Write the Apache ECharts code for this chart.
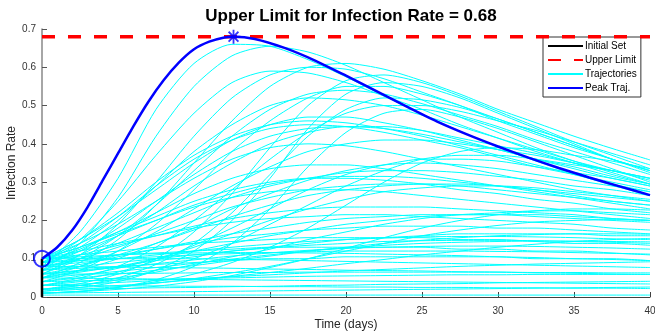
<!DOCTYPE html>
<html>
<head>
<meta charset="utf-8">
<script src="https://cdn.jsdelivr.net/npm/echarts@6/dist/echarts.min.js"></script>
<style>html,body{margin:0;padding:0;background:#fff}#c{width:655px;height:333px}</style>
</head>
<body>
<div id="c"></div>
<script>
const titleText = 'Upper Limit for Infection Rate = 0.68';
const xAxisName = 'Time (days)';
const yAxisName = 'Infection Rate';
const upperLimit = 0.68;
const xTicks = [0, 5, 10, 15, 20, 25, 30, 35, 40];
const yTicks = [0, 0.1, 0.2, 0.3, 0.4, 0.5, 0.6, 0.7];
const timePoints = [0, 2.5, 5, 7.5, 10, 12.5, 15, 17.5, 20, 22.5, 25, 27.5, 30, 32.5, 35, 37.5, 40];
const initialSetTime = [0, 0];
const initialSetValue = [0, 0.1];
const peakTrajTime = [0, 1, 2, 3, 4, 5, 6, 7, 8, 9, 10, 11, 12, 12.6, 14, 16, 18, 20, 22, 24, 26, 28, 30, 32, 34, 36, 38, 40];
const peakTrajValue = [0.1, 0.13, 0.175, 0.235, 0.305, 0.375, 0.445, 0.51, 0.566, 0.612, 0.647, 0.667, 0.678, 0.68, 0.674, 0.65, 0.617, 0.578, 0.538, 0.497, 0.458, 0.424, 0.393, 0.364, 0.337, 0.312, 0.289, 0.266];
const peakPoint = [12.6, 0.68];
const startPoint = [0, 0.1];
const trajectories = [
  [0.08,0.17,0.31,0.49,0.61,0.66,0.655,0.62,0.575,0.525,0.478,0.433,0.392,0.355,0.322,0.292,0.265],
  [0.07,0.14,0.26,0.42,0.55,0.63,0.655,0.64,0.605,0.56,0.515,0.47,0.43,0.39,0.355,0.325,0.295],
  [0.06,0.11,0.19,0.3,0.42,0.52,0.58,0.6,0.595,0.57,0.535,0.5,0.46,0.425,0.39,0.36,0.33],
  [0.05,0.09,0.15,0.24,0.35,0.46,0.55,0.6,0.61,0.595,0.565,0.53,0.49,0.455,0.42,0.388,0.358],
  [0.09,0.15,0.25,0.37,0.48,0.56,0.59,0.585,0.56,0.525,0.49,0.45,0.415,0.38,0.35,0.32,0.295],
  [0.02,0.035,0.06,0.1,0.17,0.27,0.39,0.5,0.565,0.58,0.56,0.525,0.485,0.445,0.405,0.37,0.335],
  [0.08,0.13,0.2,0.29,0.38,0.45,0.5,0.52,0.515,0.5,0.475,0.445,0.415,0.385,0.355,0.33,0.305],
  [0.06,0.1,0.16,0.24,0.33,0.42,0.49,0.53,0.54,0.53,0.505,0.475,0.445,0.41,0.38,0.35,0.32],
  [0.04,0.07,0.12,0.19,0.28,0.38,0.46,0.52,0.55,0.55,0.53,0.5,0.465,0.43,0.395,0.36,0.33],
  [0.09,0.14,0.21,0.29,0.36,0.41,0.44,0.45,0.445,0.43,0.41,0.39,0.365,0.34,0.32,0.3,0.28],
  [0.07,0.11,0.16,0.22,0.29,0.35,0.4,0.43,0.445,0.445,0.435,0.415,0.395,0.375,0.35,0.33,0.31],
  [0.03,0.05,0.08,0.13,0.2,0.28,0.36,0.43,0.48,0.5,0.5,0.485,0.46,0.435,0.405,0.375,0.345],
  [0.05,0.08,0.12,0.17,0.23,0.29,0.34,0.38,0.4,0.41,0.41,0.4,0.385,0.37,0.35,0.33,0.31],
  [0.1,0.15,0.22,0.3,0.37,0.42,0.45,0.46,0.455,0.44,0.42,0.395,0.37,0.345,0.32,0.295,0.275],
  [0.08,0.12,0.18,0.25,0.32,0.38,0.42,0.44,0.445,0.44,0.425,0.405,0.385,0.36,0.34,0.315,0.295],
  [0.01,0.015,0.025,0.045,0.08,0.14,0.23,0.34,0.43,0.48,0.49,0.47,0.44,0.405,0.37,0.335,0.3],
  [0.015,0.025,0.04,0.07,0.12,0.2,0.31,0.44,0.53,0.56,0.55,0.52,0.48,0.44,0.4,0.36,0.325],
  [0.02,0.03,0.05,0.085,0.14,0.22,0.32,0.42,0.49,0.52,0.515,0.495,0.465,0.43,0.395,0.36,0.33],
  [0.09,0.12,0.16,0.2,0.24,0.27,0.295,0.31,0.315,0.315,0.31,0.3,0.29,0.28,0.265,0.25,0.24],
  [0.07,0.1,0.14,0.18,0.22,0.26,0.29,0.31,0.325,0.33,0.33,0.325,0.315,0.305,0.29,0.28,0.265],
  [0.05,0.07,0.1,0.14,0.18,0.23,0.27,0.305,0.33,0.345,0.35,0.345,0.335,0.32,0.305,0.29,0.275],
  [0.03,0.045,0.065,0.095,0.135,0.18,0.23,0.28,0.32,0.345,0.36,0.36,0.355,0.34,0.325,0.31,0.29],
  [0.1,0.13,0.17,0.21,0.25,0.28,0.3,0.31,0.31,0.305,0.295,0.28,0.27,0.255,0.245,0.23,0.22],
  [0.08,0.1,0.13,0.165,0.2,0.235,0.26,0.28,0.29,0.295,0.295,0.29,0.28,0.27,0.26,0.25,0.24],
  [0.02,0.03,0.045,0.07,0.1,0.14,0.19,0.24,0.29,0.33,0.36,0.37,0.37,0.36,0.345,0.33,0.31],
  [0.01,0.015,0.025,0.04,0.06,0.09,0.13,0.18,0.24,0.3,0.35,0.38,0.39,0.385,0.37,0.355,0.335],
  [0.06,0.08,0.11,0.14,0.175,0.21,0.24,0.265,0.28,0.29,0.295,0.295,0.29,0.28,0.27,0.26,0.25],
  [0.04,0.055,0.075,0.1,0.13,0.165,0.2,0.23,0.255,0.275,0.285,0.29,0.29,0.285,0.275,0.265,0.255],
  [0.09,0.11,0.135,0.16,0.185,0.205,0.22,0.23,0.235,0.235,0.235,0.23,0.225,0.22,0.215,0.205,0.2],
  [0.07,0.085,0.105,0.125,0.145,0.165,0.18,0.195,0.205,0.21,0.215,0.215,0.215,0.21,0.205,0.2,0.195],
  [0.1,0.12,0.14,0.16,0.18,0.195,0.205,0.21,0.215,0.215,0.21,0.205,0.2,0.195,0.19,0.18,0.175],
  [0.05,0.065,0.08,0.1,0.12,0.14,0.16,0.175,0.19,0.2,0.21,0.215,0.215,0.215,0.21,0.205,0.2],
  [0.03,0.04,0.05,0.065,0.085,0.105,0.125,0.15,0.17,0.19,0.205,0.215,0.22,0.225,0.225,0.22,0.215],
  [0.08,0.095,0.11,0.125,0.14,0.155,0.165,0.175,0.18,0.185,0.185,0.185,0.18,0.18,0.175,0.17,0.165],
  [0.06,0.07,0.08,0.095,0.105,0.12,0.13,0.14,0.15,0.155,0.16,0.165,0.165,0.165,0.165,0.16,0.16],
  [0.1,0.11,0.12,0.13,0.14,0.145,0.15,0.155,0.155,0.155,0.155,0.15,0.15,0.145,0.14,0.14,0.135],
  [0.09,0.1,0.11,0.115,0.12,0.125,0.13,0.13,0.13,0.13,0.13,0.125,0.125,0.12,0.12,0.115,0.11],
  [0.07,0.075,0.08,0.085,0.09,0.095,0.1,0.1,0.105,0.105,0.105,0.105,0.105,0.1,0.1,0.1,0.095],
  [0.1,0.1,0.1,0.1,0.1,0.098,0.097,0.095,0.093,0.091,0.089,0.087,0.085,0.083,0.081,0.079,0.077],
  [0.08,0.079,0.078,0.077,0.076,0.075,0.073,0.072,0.07,0.069,0.068,0.066,0.065,0.063,0.062,0.06,0.059],
  [0.06,0.06,0.061,0.062,0.063,0.064,0.064,0.065,0.065,0.065,0.065,0.065,0.065,0.064,0.064,0.063,0.063],
  [0.05,0.049,0.048,0.047,0.046,0.045,0.044,0.043,0.042,0.041,0.04,0.039,0.038,0.037,0.036,0.035,0.034],
  [0.04,0.042,0.044,0.046,0.048,0.05,0.052,0.054,0.055,0.056,0.057,0.058,0.058,0.059,0.059,0.059,0.059],
  [0.03,0.03,0.029,0.029,0.028,0.028,0.027,0.027,0.026,0.026,0.025,0.025,0.024,0.024,0.023,0.023,0.022],
  [0.02,0.021,0.022,0.024,0.025,0.027,0.028,0.03,0.031,0.033,0.034,0.035,0.037,0.038,0.039,0.04,0.041],
  [0.01,0.011,0.012,0.013,0.014,0.015,0.016,0.017,0.018,0.019,0.02,0.021,0.022,0.023,0.024,0.025,0.026],
  [0.005,0.005,0.005,0.005,0.005,0.005,0.005,0.005,0.005,0.005,0.005,0.005,0.005,0.005,0.005,0.005,0.005],
  [0.09,0.095,0.1,0.105,0.11,0.113,0.116,0.118,0.12,0.12,0.12,0.12,0.119,0.118,0.116,0.114,0.112],
  [0.07,0.08,0.09,0.1,0.11,0.12,0.128,0.135,0.14,0.145,0.147,0.148,0.148,0.147,0.145,0.143,0.14],
  [0.04,0.05,0.06,0.07,0.082,0.095,0.107,0.12,0.13,0.14,0.148,0.155,0.16,0.163,0.165,0.165,0.164],
  [0.02,0.025,0.03,0.037,0.045,0.054,0.064,0.075,0.087,0.098,0.11,0.12,0.13,0.138,0.145,0.15,0.153],
  [0.015,0.02,0.027,0.036,0.048,0.063,0.08,0.1,0.12,0.14,0.16,0.175,0.187,0.196,0.2,0.202,0.2],
  [0.01,0.014,0.02,0.028,0.04,0.056,0.077,0.1,0.127,0.155,0.18,0.2,0.215,0.225,0.23,0.23,0.227],
  [0.06,0.068,0.077,0.087,0.097,0.107,0.115,0.122,0.127,0.13,0.132,0.133,0.133,0.132,0.13,0.128,0.125],
  [0.1,0.105,0.11,0.113,0.115,0.116,0.116,0.115,0.114,0.112,0.11,0.108,0.105,0.103,0.1,0.098,0.095],
  [0.08,0.09,0.1,0.11,0.12,0.13,0.138,0.145,0.15,0.154,0.157,0.158,0.158,0.157,0.155,0.152,0.15],
  [0.05,0.058,0.067,0.077,0.088,0.099,0.11,0.12,0.128,0.135,0.14,0.143,0.145,0.146,0.146,0.145,0.144],
  [0.03,0.034,0.038,0.043,0.048,0.053,0.058,0.063,0.068,0.072,0.076,0.08,0.083,0.086,0.088,0.09,0.092],
  [0.1,0.13,0.165,0.2,0.235,0.26,0.275,0.28,0.28,0.275,0.265,0.255,0.245,0.235,0.225,0.215,0.205],
  [0.09,0.125,0.17,0.22,0.27,0.31,0.335,0.345,0.345,0.335,0.32,0.305,0.29,0.275,0.26,0.245,0.23],
  [0.1,0.14,0.19,0.25,0.31,0.36,0.39,0.4,0.395,0.38,0.36,0.34,0.32,0.3,0.28,0.265,0.25],
  [0.1,0.15,0.21,0.28,0.35,0.41,0.45,0.47,0.47,0.455,0.435,0.41,0.385,0.36,0.335,0.31,0.29]
];
const legendNames = ['Initial Set', 'Upper Limit', 'Trajectories', 'Peak Traj.'];

const chart = echarts.init(document.getElementById('c'), null, {renderer: 'canvas'});
const zip = (xs, ys) => xs.map((x, i) => [x, ys[i]]);
const series = [];
trajectories.forEach(tr => {
  series.push({
    name: legendNames[2], type: 'line', data: zip(timePoints, tr),
    smooth: 0.25, symbol: 'none', silent: true,
    lineStyle: {color: '#00ffff', width: 1}, itemStyle: {color: '#00ffff'}, z: 2
  });
});
series.push({
  name: legendNames[0], type: 'line', data: zip(initialSetTime, initialSetValue),
  symbol: 'none', clip: false, lineStyle: {color: '#000', width: 2.5}, itemStyle: {color: '#000'}, z: 3
});
series.push({
  name: legendNames[1], type: 'line', data: [[xTicks[0], upperLimit], [xTicks[xTicks.length - 1], upperLimit]],
  symbol: 'none', lineStyle: {color: '#ff0000', width: 3.5, type: [13, 13]}, itemStyle: {color: '#ff0000'}, z: 4
});
series.push({
  name: legendNames[3], type: 'line', data: zip(peakTrajTime, peakTrajValue),
  smooth: 0.2, symbol: 'none', lineStyle: {color: '#0000ff', width: 2.5}, itemStyle: {color: '#0000ff'}, z: 5
});
series.push({
  name: 'start', type: 'scatter', data: [startPoint], clip: false,
  symbol: 'circle', symbolSize: 16,
  itemStyle: {color: 'rgba(0,0,0,0)', borderColor: '#0000ff', borderWidth: 2}, z: 6
});
series.push({
  name: 'peak', type: 'scatter', data: [peakPoint], clip: false,
  symbol: 'path://M10,0L10,20M0,10L20,10M3,3L17,17M3,17L17,3', symbolSize: 14,
  itemStyle: {color: 'rgba(0,0,0,0)', borderColor: '#0000ff', borderWidth: 1.8}, z: 6
});

const font = 'Liberation Sans, Arial, sans-serif';
chart.setOption({
  animation: false,
  backgroundColor: '#fff',
  title: {
    text: titleText, left: 346, textAlign: 'center', top: 3,
    textStyle: {fontFamily: font, fontSize: 17, fontWeight: 'bold', color: '#000'}
  },
  legend: {
    data: legendNames, orient: 'vertical', left: 543, top: 37,
    itemWidth: 35, itemHeight: 10, itemGap: 4,
    padding: [4, 4, 4, 4],
    borderColor: '#333', borderWidth: 1, backgroundColor: '#fff',
    itemStyle: {opacity: 0},
    textStyle: {fontFamily: font, fontSize: 10, color: '#000', padding: [0, 0, 0, -3]}
  },
  graphic: [
    {type: 'text', x: 346, y: 325, style: {text: xAxisName, font: '12px ' + font, fill: '#262626', align: 'center', verticalAlign: 'middle'}},
    {type: 'text', x: 12, y: 163, rotation: Math.PI / 2, style: {text: yAxisName, font: '12px ' + font, fill: '#262626', align: 'center', verticalAlign: 'middle'}}
  ],
  grid: {left: 42, right: 5, top: 29, bottom: 36, containLabel: false, outerBoundsMode: 'none'},
  xAxis: {
    type: 'value', min: xTicks[0], max: xTicks[xTicks.length - 1], interval: 5,
    axisLine: {show: true, lineStyle: {color: '#404040', width: 1}},
    axisTick: {show: true, inside: true, length: 5, lineStyle: {color: '#404040'}},
    axisLabel: {fontFamily: font, fontSize: 10, color: '#333', margin: 9},
    splitLine: {show: false}
  },
  yAxis: {
    type: 'value', min: yTicks[0], max: yTicks[yTicks.length - 1], interval: 0.1,
    axisLine: {show: true, lineStyle: {color: '#888', width: 1.5}},
    axisTick: {show: true, inside: true, length: 5, lineStyle: {color: '#555'}},
    axisLabel: {fontFamily: font, fontSize: 10, color: '#333', margin: 6},
    splitLine: {show: false}
  },
  series: series
});
</script>
</body>
</html>
